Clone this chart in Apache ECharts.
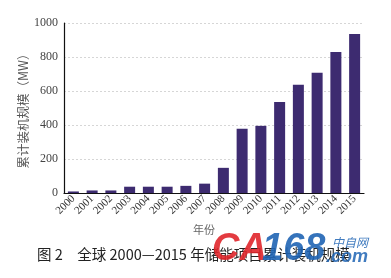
<!DOCTYPE html>
<html><head><meta charset="utf-8">
<script src="https://cdn.jsdelivr.net/npm/echarts@6/dist/echarts.min.js"></script>
<style>html,body{margin:0;padding:0;background:#fff}#c{width:391px;height:278px}</style>
</head><body><div id="c"></div>
<script>
const years = ['2000','2001','2002','2003','2004','2005','2006','2007','2008','2009','2010','2011','2012','2013','2014','2015'];
const capacity = [9, 15, 15, 37, 37, 37, 42, 55, 148, 378, 395, 535, 637, 708, 830, 935];
const yTicks = [0, 200, 400, 600, 800, 1000];
const yName = '累计装机规模（MW）';
const xName = '年份';
const caption = '图 2　全球 2000—2015 年储能项目累计装机规模';

const chart = echarts.init(document.getElementById('c'), null, {renderer: 'canvas'});
const serif = '"Liberation Serif","DejaVu Serif","Noto Sans CJK SC",serif';
chart.setOption({
  animation: false,
  grid: {left: 64, right: 27, top: 23, bottom: 85, containLabel: false},
  xAxis: {
    type: 'category', data: years,
    axisLine: {lineStyle: {color: '#111', width: 1.2}},
    axisTick: {show: false},
    axisLabel: {rotate: 45, fontFamily: serif, fontSize: 11, color: '#333', margin: 4, interval: 0},
    name: xName, nameLocation: 'middle', nameGap: 31, nameMoveOverlap: false,
    nameTextStyle: {fontFamily: '"Noto Sans CJK SC",serif', fontSize: 11, color: '#666', padding: [0, 20, 0, 0]}
  },
  yAxis: {
    type: 'value', min: yTicks[0], max: yTicks[yTicks.length - 1], interval: 200,
    axisLine: {show: true, lineStyle: {color: '#111', width: 1.2}},
    axisTick: {show: false},
    axisLabel: {fontFamily: serif, fontSize: 12, color: '#444', margin: 6, formatter: v => String(v)},
    splitLine: {lineStyle: {color: '#d6d6d6', type: [2, 2]}},
    name: yName, nameLocation: 'middle', nameGap: 34, nameRotate: 90, nameMoveOverlap: false,
    nameTextStyle: {fontFamily: '"Noto Sans CJK SC",serif', fontSize: 12.5, color: '#555'}
  },
  series: [{
    type: 'bar', data: capacity, barWidth: 11,
    itemStyle: {color: '#3d2b70'}
  }],
  graphic: [
    {type: 'text', left: 37, top: 247, style: {text: caption, font: '14.5px "Noto Sans CJK SC",sans-serif', fill: '#222'}},
    {type: 'text', left: 212, top: 231, style: {text: 'CA', font: 'italic bold 38px "Liberation Sans",sans-serif', fill: '#e0262b', opacity: 0.9}},
    {type: 'text', left: 262, top: 231, style: {text: '168', font: 'italic bold 38px "Liberation Sans",sans-serif', fill: '#1f64b4', opacity: 0.9}},
    {type: 'text', left: 332, top: 236, style: {text: '中自网', font: 'italic 12px "Noto Sans CJK SC",sans-serif', fill: '#1f64b4', opacity: 0.85}},
    {type: 'text', left: 326, top: 248, style: {text: '.com', font: 'italic bold 18px "Liberation Sans",sans-serif', fill: '#1f64b4', opacity: 0.85}}
  ]
});
</script></body></html>
